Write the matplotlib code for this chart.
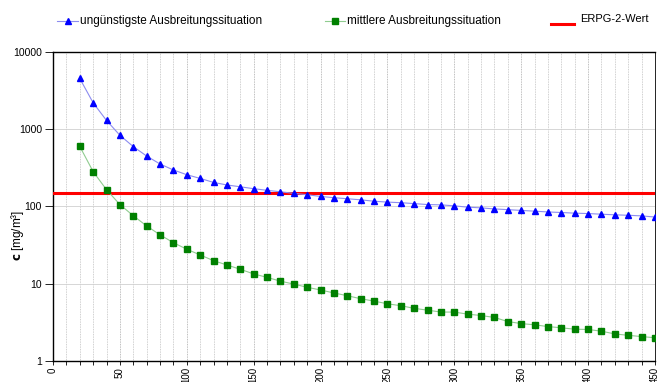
import numpy as np
import matplotlib
matplotlib.use("Agg")
import matplotlib.pyplot as plt
from matplotlib.lines import Line2D

distance = list(range(20, 460, 10))

worst_case = [4550, 2200, 1300, 836, 596, 450, 355, 297, 258, 231,
              205, 190, 180, 170, 162, 155, 148, 142, 135, 130,
              126, 122, 117, 114, 112, 109, 106, 105, 102, 98,
              96, 93, 91, 89, 87, 85, 83.6, 82, 81, 79.5,
              78, 77, 75.6, 73]

average_case = [600, 283, 165, 106, 76, 56, 43, 34, 28, 23.6,
                19.9, 17.5, 15.4, 13.4, 12.1, 10.8, 9.9, 9.0, 8.3, 7.6,
                7.0, 6.4, 5.96, 5.5, 5.2, 4.8, 4.55, 4.3, 4.3, 4.04,
                3.88, 3.66, 3.24, 3.05, 2.94, 2.79, 2.69, 2.58, 2.56, 2.43,
                2.24, 2.15, 2.07, 2.0]

erpg2 = 150

labels = ["ungünstigste Ausbreitungssituation",
          "mittlere Ausbreitungssituation",
          "ERPG-2-Wert"]

FONT = ["Liberation Sans Narrow", "Liberation Sans", "DejaVu Sans"]

fig = plt.figure(figsize=(6.57, 3.82), dpi=100)
ax = fig.add_axes([53 / 657, 21 / 382, 602 / 657, 309 / 382])

ax.plot(distance, worst_case, color="#8c8cf0", lw=0.8,
        marker="^", ms=5, mfc="#0000ff", mec="#0000ff", zorder=4)
ax.plot(distance, average_case, color="#90cc90", lw=0.8,
        marker="s", ms=5, mfc="#008000", mec="#008000", zorder=4)
ax.axhline(erpg2, color="#ff0000", lw=2.2, zorder=3)

ax.set_yscale("log")
ax.set_ylim(1, 10000)
ax.set_xlim(0, 450)
ax.set_yticks([1, 10, 100, 1000, 10000])
ax.set_yticklabels(["1", "10", "100", "1000", "10000"])
ax.yaxis.set_minor_locator(matplotlib.ticker.NullLocator())
ax.set_xticks(np.arange(0, 451, 50))
ax.set_xticks(np.arange(0, 451, 10), minor=True)
ax.tick_params(axis="x", which="both", rotation=90, labelsize=7,
               length=3, direction="out", width=0.6, pad=1.5)
ax.tick_params(axis="y", labelsize=7.5, length=6, width=0.6, pad=2)
for lab in ax.get_xticklabels() + ax.get_yticklabels():
    lab.set_family(FONT)

ax.grid(True, which="minor", axis="x", color="#c0c0c0", lw=0.6, ls=(0, (1, 1)))
ax.grid(True, which="major", axis="x", color="#a8a8a8", lw=0.6, ls=(0, (1, 1)))
ax.grid(True, which="major", axis="y", color="#d0d0d0", lw=0.6)
ax.set_axisbelow(True)

for side in ["left", "bottom", "top"]:
    ax.spines[side].set_linewidth(1.0)
ax.spines["right"].set_linewidth(0.6)

fig.text(17 / 657, 1 - 235 / 382, r"$\mathbf{c}$ [mg/m³]", rotation=90,
         ha="center", va="center", fontsize=8.5, family=FONT)

handles = [
    Line2D([], [], color="#8c8cf0", lw=0.8, marker="^",
           mfc="#0000ff", mec="#0000ff"),
    Line2D([], [], color="#90cc90", lw=0.8, marker="s",
           mfc="#008000", mec="#008000"),
    Line2D([], [], color="#ff0000", lw=2.2),
]
# (line start, line end, line y, text x, text y, font size) in pixels / pt
positions = [(57, 78, 21, 80, 21, 8.5), (325, 345, 21, 347, 21, 8.5),
             (551, 574, 24, 580, 19, 8)]
for h, lab, (p0, p1, ly, tx, ty, fs) in zip(handles, labels, positions):
    y = 1 - ly / 382
    x0, x1 = p0 / 657, p1 / 657
    fig.add_artist(Line2D([x0, x1], [y, y], transform=fig.transFigure,
                          color=h.get_color(), lw=h.get_linewidth()))
    if h.get_marker() not in (None, "None", ""):
        fig.add_artist(Line2D([(x0 + x1) / 2], [y], transform=fig.transFigure,
                              marker=h.get_marker(), ms=4, ls="none",
                              mfc=h.get_markerfacecolor(),
                              mec=h.get_markeredgecolor()))
    fig.text(tx / 657, 1 - ty / 382, lab, ha="left", va="center",
             fontsize=fs, family=FONT)

fig.savefig("out.png", dpi=100)
